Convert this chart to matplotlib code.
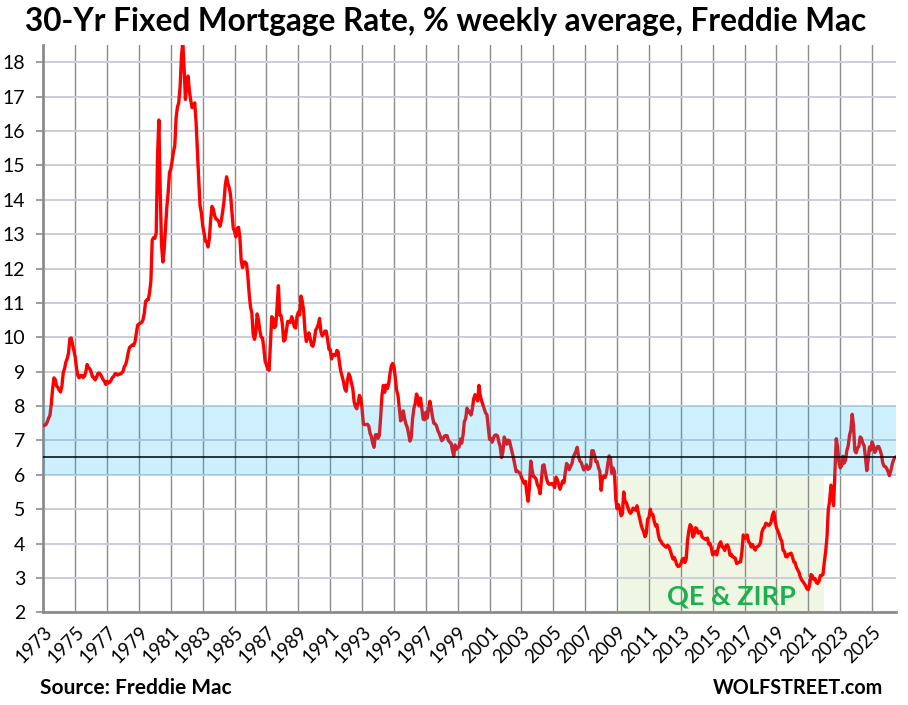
import numpy as np
import matplotlib
matplotlib.use("Agg")
import matplotlib.pyplot as plt

plt.rcParams['font.family'] = ['Lato', 'DejaVu Sans']

# monthly averages of the weekly rate, by decade
r1970s = [7.44, 7.44, 7.46, 7.54, 7.65, 7.73, 8.05, 8.50, 8.82, 8.77, 8.58, 8.54,
          8.46, 8.41, 8.58, 8.97, 9.09, 9.28, 9.38, 9.55, 9.96, 9.98, 9.79, 9.62,
          9.43, 9.10, 8.89, 8.82, 8.89, 8.89, 8.83, 8.87, 8.99, 9.21, 9.11, 9.09,
          8.99, 8.85, 8.83, 8.76, 8.83, 8.94, 8.96, 8.92, 8.85, 8.77, 8.72, 8.63,
          8.72, 8.67, 8.69, 8.75, 8.83, 8.86, 8.94, 8.94, 8.90, 8.93, 8.93, 8.96,
          9.01, 9.15, 9.20, 9.36, 9.57, 9.71, 9.74, 9.78, 9.76, 9.86, 10.11, 10.35,
          10.39, 10.41, 10.43, 10.50, 10.69, 11.04, 11.09, 11.09, 11.30, 11.64, 12.83, 12.90]
r1980s = [12.88, 13.04, 15.28, 16.32, 14.26, 12.71, 12.19, 12.56, 13.20, 13.79, 14.21, 14.79,
          14.90, 15.13, 15.40, 15.58, 16.40, 16.70, 16.83, 17.29, 18.16, 18.60, 17.83, 16.92,
          17.40, 17.60, 17.16, 16.89, 16.68, 16.70, 16.82, 16.27, 15.43, 14.61, 13.83, 13.62,
          13.25, 13.04, 12.80, 12.78, 12.63, 12.87, 13.42, 13.81, 13.73, 13.54, 13.44, 13.42,
          13.37, 13.23, 13.39, 13.65, 13.94, 14.42, 14.67, 14.47, 14.35, 14.13, 13.64, 13.18,
          13.08, 12.92, 13.17, 13.20, 12.91, 12.22, 12.03, 12.19, 12.19, 12.14, 11.78, 11.26,
          10.88, 10.71, 10.08, 9.94, 10.14, 10.68, 10.51, 10.20, 10.01, 9.98, 9.70, 9.31,
          9.20, 9.08, 9.04, 9.83, 10.60, 10.54, 10.28, 10.33, 10.89, 11.50, 10.65, 10.64,
          10.38, 9.89, 9.93, 10.20, 10.46, 10.46, 10.43, 10.60, 10.48, 10.30, 10.27, 10.61,
          10.73, 10.65, 11.20, 11.05, 10.77, 10.20, 9.88, 9.99, 10.13, 9.95, 9.77, 9.74]
r1990s = [9.90, 10.20, 10.27, 10.37, 10.55, 10.16, 10.04, 10.10, 10.18, 10.18, 9.95, 9.66,
          9.64, 9.37, 9.50, 9.49, 9.47, 9.62, 9.58, 9.24, 9.01, 8.86, 8.71, 8.50,
          8.43, 8.76, 8.94, 8.85, 8.67, 8.51, 8.13, 7.98, 7.92, 8.09, 8.31, 8.22,
          7.91, 7.47, 7.46, 7.46, 7.47, 7.42, 7.21, 7.11, 6.92, 6.80, 7.16, 7.17,
          7.06, 7.15, 7.68, 8.32, 8.60, 8.40, 8.61, 8.51, 8.64, 8.93, 9.17, 9.24,
          9.15, 8.83, 8.46, 8.32, 7.96, 7.57, 7.61, 7.86, 7.64, 7.48, 7.38, 7.20,
          6.98, 7.08, 7.62, 7.93, 8.07, 8.35, 8.25, 8.00, 8.23, 7.92, 7.62, 7.60,
          7.82, 7.65, 7.90, 8.14, 7.94, 7.69, 7.50, 7.48, 7.43, 7.29, 7.21, 7.10,
          6.99, 7.04, 7.13, 7.14, 7.14, 7.00, 6.95, 6.92, 6.72, 6.55, 6.87, 6.74,
          6.79, 6.81, 7.04, 6.92, 7.15, 7.55, 7.63, 7.94, 7.82, 7.85, 7.74, 7.91]
r2000s = [8.21, 8.33, 8.24, 8.15, 8.60, 8.29, 8.15, 8.03, 7.91, 7.80, 7.75, 7.38,
          7.03, 7.05, 6.95, 7.08, 7.15, 7.16, 7.13, 6.95, 6.82, 6.50, 6.66, 7.10,
          7.00, 6.89, 7.01, 6.99, 6.81, 6.65, 6.49, 6.29, 6.09, 6.11, 6.07, 6.05,
          5.92, 5.84, 5.75, 5.81, 5.48, 5.23, 5.63, 6.40, 6.15, 5.95, 5.93, 5.88,
          5.71, 5.64, 5.45, 5.83, 6.27, 6.29, 6.06, 5.87, 5.75, 5.72, 5.73, 5.75,
          5.71, 5.63, 5.93, 5.86, 5.72, 5.58, 5.70, 5.82, 5.77, 6.07, 6.33, 6.27,
          6.15, 6.25, 6.32, 6.51, 6.60, 6.68, 6.80, 6.52, 6.40, 6.36, 6.24, 6.14,
          6.22, 6.29, 6.16, 6.18, 6.26, 6.70, 6.70, 6.57, 6.38, 6.38, 6.21, 6.10,
          5.55, 5.92, 5.97, 5.92, 6.04, 6.32, 6.55, 6.48, 6.04, 6.20, 6.09, 5.29,
          5.01, 5.13, 5.00, 4.81, 4.86, 5.50, 5.22, 5.19, 5.06, 4.95, 4.88, 4.93]
r2010s = [5.03, 4.99, 4.97, 5.10, 4.89, 4.74, 4.56, 4.43, 4.35, 4.20, 4.30, 4.71,
          4.76, 5.00, 4.84, 4.84, 4.64, 4.51, 4.55, 4.27, 4.11, 4.07, 3.99, 3.96,
          3.92, 3.89, 3.95, 3.91, 3.80, 3.68, 3.55, 3.60, 3.50, 3.38, 3.33, 3.35,
          3.41, 3.53, 3.57, 3.45, 3.54, 4.07, 4.37, 4.55, 4.49, 4.19, 4.26, 4.46,
          4.43, 4.30, 4.34, 4.34, 4.19, 4.16, 4.13, 4.12, 4.16, 3.98, 4.00, 3.86,
          3.67, 3.71, 3.77, 3.67, 3.84, 3.98, 4.05, 3.91, 3.89, 3.80, 3.94, 3.96,
          3.87, 3.66, 3.69, 3.61, 3.60, 3.57, 3.42, 3.44, 3.46, 3.47, 3.77, 4.25,
          4.15, 4.17, 4.25, 4.05, 4.01, 3.90, 3.97, 3.88, 3.81, 3.90, 3.92, 3.95,
          4.03, 4.33, 4.44, 4.47, 4.59, 4.57, 4.53, 4.55, 4.63, 4.83, 4.92, 4.64,
          4.46, 4.37, 4.27, 4.14, 4.07, 3.80, 3.77, 3.62, 3.61, 3.69, 3.70, 3.72]
r2020s = [3.62, 3.47, 3.45, 3.31, 3.23, 3.16, 3.02, 2.94, 2.89, 2.83, 2.77, 2.68,
          2.66, 2.81, 3.10, 3.06, 2.96, 2.98, 2.87, 2.84, 2.90, 3.07, 3.07, 3.10,
          3.45, 3.76, 4.17, 4.98, 5.23, 5.70, 5.41, 5.10, 6.11, 7.05, 6.81, 6.36,
          6.20, 6.26, 6.54, 6.34, 6.43, 6.71, 6.84, 7.15, 7.30, 7.76, 7.44, 6.70,
          6.64, 6.78, 6.82, 7.10, 7.06, 6.92, 6.85, 6.50, 6.12, 6.43, 6.81, 6.72,
          6.96, 6.84, 6.65, 6.73, 6.82, 6.82, 6.72, 6.59, 6.35, 6.25, 6.24, 6.18,
          6.09, 5.98, 6.10, 6.28, 6.42, 6.50, 6.52]

first_year = 1973
band_low, band_high = 6, 8
ref_rate = 6.52
qe_start, qe_end = 2009.2, 2022.0
year_ticks = list(range(1973, 2026, 2))

rates = np.array(r1970s + r1980s + r1990s + r2000s + r2010s + r2020s)
dates = first_year + np.arange(len(rates)) / 12.0

fig = plt.figure(figsize=(9.08, 7.05), dpi=100)
ax = fig.add_axes([0.0477, 0.1315, 0.9391, 0.8045])

# QE & ZIRP shading, under the line
ax.fill_between([qe_start, qe_end], 2, band_low, color='#F0F6E4', zorder=0, lw=0)

ax.plot(dates, rates, color='#FF0000', lw=2.4, zorder=3, solid_joinstyle='round')

# blue band sits over the line, semi-transparent
ax.axhspan(band_low, band_high, color='#05B4F0', alpha=0.2, lw=0, zorder=4)
ax.axhline(ref_rate, color='black', lw=1.1, zorder=5)

ax.set_xlim(1973, 2026.5)
ax.set_ylim(2, 18.5)
ax.set_yticks(range(2, 19))
ax.set_xticks(year_ticks)
ax.set_xticklabels([str(y) for y in year_ticks], rotation=45, ha='right',
                   rotation_mode='anchor', fontsize=13.5)
ax.tick_params(axis='y', labelsize=14, length=5, width=1.2, color='#8C8C8C', pad=8)
ax.tick_params(axis='x', length=0, pad=8)

ax.grid(axis='y', color='#C9CED8', lw=1.4, zorder=1)
ax.grid(axis='x', color='#8C8C8C', lw=1.0, zorder=1)
ax.set_axisbelow(True)
for s in ['top', 'right']:
    ax.spines[s].set_visible(False)
for s in ['left', 'bottom']:
    ax.spines[s].set_color('#8C8C8C')
    ax.spines[s].set_linewidth(2)

ax.text(2016.2, 2.45, 'QE & ZIRP', color='#1DB04F', fontsize=19.5, fontweight='bold',
        ha='center', va='center', zorder=6)

fig.text(0.027, 0.969, '30-Yr Fixed Mortgage Rate, % weekly average, Freddie Mac',
         fontsize=22.8, fontweight='bold', ha='left', va='center')
fig.text(0.044, 0.024, 'Source: Freddie Mac', fontsize=15, fontweight='bold',
         ha='left', va='center')
fig.text(0.973, 0.024, 'WOLFSTREET.com', fontsize=14.2, fontweight='bold',
         ha='right', va='center')

fig.savefig('out.png', dpi=100)
